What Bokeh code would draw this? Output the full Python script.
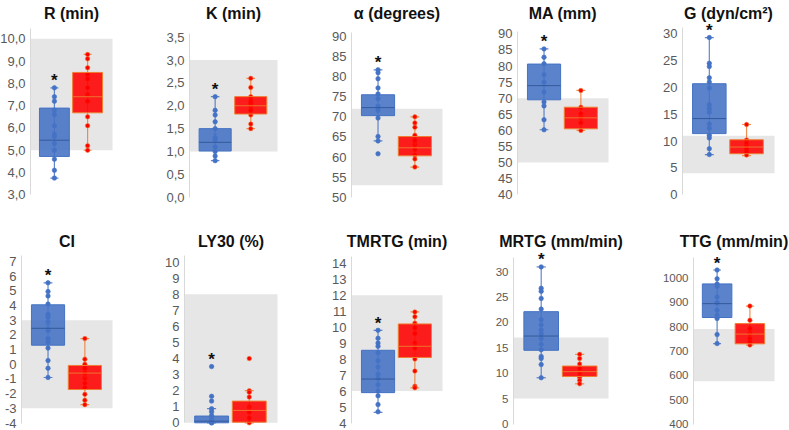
from bokeh.plotting import figure
from bokeh.layouts import column, row
from bokeh.models import FixedTicker
from bokeh.core.properties import value
from bokeh.embed import file_html
from bokeh.resources import INLINE

# ---------------- data ----------------
titles = ["R (min)", "K (min)", "α (degrees)", "MA (mm)", "G (dyn/cm²)",
          "CI", "LY30 (%)", "TMRTG (min)", "MRTG (mm/min)", "TTG (mm/min)"]

# reference (normal) ranges: gray bands
ref_low = [5.0, 1.0, 53.0, 50.0, 4.0, -3.0, 0.0, 6.0, 5.0, 575.0]
ref_high = [10.0, 3.0, 72.0, 70.0, 11.0, 3.0, 8.0, 12.0, 17.0, 790.0]

# tick values and labels
R_ticks = [3, 4, 5, 6, 7, 8, 9, 10]
R_labels = ["3,0", "4,0", "5,0", "6,0", "7,0", "8,0", "9,0", "10,0"]
K_ticks = [0.0, 0.5, 1.0, 1.5, 2.0, 2.5, 3.0, 3.5]
K_labels = ["0,0", "0,5", "1,0", "1,5", "2,0", "2,5", "3,0", "3,5"]
A_ticks = [50, 55, 60, 65, 70, 75, 80, 85, 90]
MA_ticks = [40, 45, 50, 55, 60, 65, 70, 75, 80, 85, 90]
G_ticks = [0, 5, 10, 15, 20, 25, 30]
CI_ticks = [-4, -3, -2, -1, 0, 1, 2, 3, 4, 5, 6, 7]
LY_ticks = [0, 1, 2, 3, 4, 5, 6, 7, 8, 9, 10]
TM_ticks = [4, 5, 6, 7, 8, 9, 10, 11, 12, 13, 14]
MR_ticks = [0, 5, 10, 15, 20, 25, 30]
TT_ticks = [400, 500, 600, 700, 800, 900, 1000]

# individual points (blue group, red group)
R_blue = [7.8, 7.4, 7.2, 6.8, 6.6, 6.1, 5.7, 5.6, 5.3, 5.0, 4.6, 4.1, 3.75]
R_red = [9.3, 9.1, 8.7, 8.4, 8.2, 7.8, 7.5, 7.2, 6.5, 6.1, 5.2, 5.0]
K_blue = [2.2, 1.9, 1.8, 1.65, 1.5, 1.3, 1.25, 1.1, 1.0, 0.9, 0.8]
K_red = [2.6, 2.4, 2.2, 2.1, 2.05, 2.0, 1.9, 1.8, 1.6, 1.5]
A_blue = [81.7, 81.0, 79.5, 77.2, 75.7, 74.5, 72.6, 71.6, 69.7, 65.1, 64.0, 60.8]
A_red = [70.0, 68.5, 67.4, 65.4, 64.1, 63.1, 61.9, 60.5, 59.5, 57.5]
MA_blue = [85.3, 82.7, 80.7, 77.3, 75.0, 71.9, 68.8, 67.6, 63.3, 60.2]
MA_red = [72.4, 67.2, 65.2, 64.0, 62.4, 60.0]
G_blue = [29.3, 24.5, 23.9, 21.8, 21.0, 19.9, 16.8, 16.1, 15.4, 13.2, 12.4, 11.1, 10.6, 8.6, 7.5]
G_red = [13.1, 10.2, 9.6, 9.0, 8.5, 7.9, 7.4]
CI_blue = [5.55, 4.95, 4.65, 4.1, 3.4, 3.2, 2.9, 2.3, 1.75, 1.5, 1.1, 0.25, -0.27, -0.9]
CI_red = [1.75, 0.35, 0.0, -0.27, -0.6, -0.95, -1.3, -1.6, -2.05, -2.45, -2.75]
LY_blue = [3.5, 1.65, 1.35, 0.88, 0.7, 0.45, 0.35, 0.15, 0.05, 0.0, 0.0]
LY_red = [4.0, 2.0, 1.9, 1.6, 0.98, 0.66, 0.3, 0.0]
TM_blue = [9.8, 9.3, 9.0, 8.8, 8.4, 7.9, 7.5, 7.05, 6.8, 6.4, 6.0, 5.7, 5.15, 4.7]
TM_red = [10.95, 10.65, 10.25, 9.95, 9.6, 9.0, 8.7, 8.0, 7.25, 6.3, 6.2]
MR_blue = [30.9, 26.7, 26.1, 24.7, 22.6, 20.5, 19.5, 18.5, 17.7, 16.8, 15.7, 14.6, 13.3, 12.9, 11.7, 9.1]
MR_red = [13.7, 12.9, 11.8, 10.9, 10.1, 9.2, 8.6, 7.9]
TT_blue = [1032, 996, 975, 965, 921, 898, 867, 846, 833, 767, 730]
TT_red = [884, 826, 792, 771, 751, 737, 724]

# box statistics: [whisker low, Q1, median, Q3, whisker high]
R_blue_box = [3.75, 4.72, 5.45, 6.89, 7.8]
R_red_box = [5.0, 6.68, 7.4, 8.49, 9.3]
K_blue_box = [0.8, 1.01, 1.2, 1.5, 2.2]
K_red_box = [1.5, 1.82, 2.0, 2.2, 2.6]
A_blue_box = [64.0, 70.3, 72.3, 75.5, 81.7]
A_red_box = [57.5, 60.3, 62.3, 65.1, 70.0]
MA_blue_box = [60.2, 69.5, 73.9, 80.6, 85.3]
MA_red_box = [60.0, 60.5, 63.9, 67.2, 72.4]
G_blue_box = [7.5, 11.4, 14.2, 20.7, 29.3]
G_red_box = [7.3, 7.65, 8.9, 10.25, 13.1]
CI_blue_box = [-0.9, 1.3, 2.45, 4.05, 5.55]
CI_red_box = [-2.75, -1.72, -0.6, -0.08, 1.75]
LY_blue_box = [0.0, 0.0, 0.1, 0.42, 0.88]
LY_red_box = [0.0, 0.04, 0.77, 1.35, 2.0]
TM_blue_box = [4.66, 5.9, 6.75, 8.55, 9.8]
TM_red_box = [6.2, 8.1, 8.8, 10.2, 10.95]
MR_blue_box = [9.1, 14.5, 17.3, 22.1, 30.9]
MR_red_box = [7.9, 9.35, 10.3, 11.4, 13.7]
TT_blue_box = [730, 837, 894, 975, 1032]
TT_red_box = [724, 729, 769, 812, 884]

# group means (x markers)
blue_means = [5.75, 1.35, 72.5, 74.2, 16.2, 2.6, 0.5, 7.0, 18.2, 895]
red_means = [7.5, 2.0, 63.2, 64.3, 9.2, -0.85, 0.95, 8.9, 10.4, 774]

tick_sets = [R_ticks, K_ticks, A_ticks, MA_ticks, G_ticks,
             CI_ticks, LY_ticks, TM_ticks, MR_ticks, TT_ticks]
label_sets = [R_labels, K_labels] + [[str(t) for t in ts] for ts in tick_sets[2:]]
blue_sets = [R_blue, K_blue, A_blue, MA_blue, G_blue, CI_blue, LY_blue, TM_blue, MR_blue, TT_blue]
red_sets = [R_red, K_red, A_red, MA_red, G_red, CI_red, LY_red, TM_red, MR_red, TT_red]
blue_boxes = [R_blue_box, K_blue_box, A_blue_box, MA_blue_box, G_blue_box,
              CI_blue_box, LY_blue_box, TM_blue_box, MR_blue_box, TT_blue_box]
red_boxes = [R_red_box, K_red_box, A_red_box, MA_red_box, G_red_box,
             CI_red_box, LY_red_box, TM_red_box, MR_red_box, TT_red_box]

# ---------------- layout (pixel geometry) ----------------
# x0, axis x, band right, x1
cols1 = [(0, 30, 112, 150), (150, 189, 277, 315), (315, 351, 442, 482),
         (482, 517, 608, 648), (648, 682, 774, 789)]
cols2 = [(0, 21, 112, 150), (150, 184, 277, 315), (315, 351, 442, 482),
         (482, 513, 608, 648), (648, 693, 774, 789)]
# y0, lowest tick px, y1, top tick px, axis-line top px, title centre px
rows1 = [(0, 194.3, 215, 38.3, 28, 12.5), (0, 196.7, 215, 36.7, 33, 12.5),
         (0, 196.7, 215, 36.0, 32, 12.5), (0, 194.3, 215, 33.3, 31, 12.5),
         (0, 194.3, 215, 33.3, 27, 12.5)]
rows2 = [(215, 422.5, 430, 261.0, 255, 240.5), (215, 422.3, 430, 261.7, 255, 240.5),
         (215, 422.5, 430, 262.7, 256, 240.5), (215, 423.5, 430, 271.0, 257, 240.5),
         (215, 423.5, 430, 277.3, 257, 240.5)]
tick_font = ["13px"] * 8 + ["11.5px", "11.5px"]

FONT = "Liberation Sans"
BLUE = "#4472C4"
BLUE_DARK = "#2F5597"
RED = "#FF0000"
ORANGE = "#ED7D31"
BAND = "#E7E6E6"
XB = (0.28, 2.75)   # data x of axis and of band's right edge


def make_panel(i, colg, rowg):
    x0, ax, fr, x1 = colg
    y0, pbot, y1, ptop, atop, tc = rowg
    ticks = tick_sets[i]
    vtop, vbot = ticks[-1], ticks[0]
    s = (pbot - ptop) / (vtop - vbot)          # pixels per y unit
    u = (fr - ax) / (XB[1] - XB[0])            # pixels per x unit
    xr = (XB[0] - (ax - x0) / u, XB[1] + (x1 - fr) / u)
    yr = (vbot - (y1 - pbot) / s, vtop + (ptop - y0) / s)
    axis_top = vtop + (ptop - atop) / s
    title_y = vtop + (ptop - tc) / s

    p = figure(width=x1 - x0, height=y1 - y0, x_range=xr, y_range=yr,
               output_backend="svg", toolbar_location=None, x_axis_type=None,
               min_border_left=0, min_border_right=0, min_border_top=0, min_border_bottom=0)
    p.outline_line_color = None
    p.ygrid.grid_line_color = None

    ya = p.yaxis[0]
    ya.fixed_location = XB[0]
    ya.bounds = (vbot, axis_top)
    ya.ticker = FixedTicker(ticks=ticks)
    ya.major_label_overrides = dict(zip(ticks, label_sets[i]))
    ya.axis_line_color = "#D9D9D9"
    ya.axis_line_width = 1
    ya.major_tick_line_color = None
    ya.minor_tick_line_color = None
    ya.major_tick_out = 0
    ya.major_tick_in = 0
    ya.major_label_standoff = 5
    ya.major_label_text_font = FONT
    ya.major_label_text_font_size = tick_font[i]
    ya.major_label_text_color = "#595959"

    # reference range band
    p.quad(left=[XB[0]], right=[XB[1]], bottom=[ref_low[i]], top=[ref_high[i]],
           fill_color=BAND, line_color=None, level="underlay")

    groups = [(1.0, blue_sets[i], blue_boxes[i], blue_means[i], BLUE, BLUE, BLUE, BLUE_DARK),
              (2.0, red_sets[i], red_boxes[i], red_means[i], RED, ORANGE, ORANGE, ORANGE)]
    for xc, pts, box, mean, fill, edge, wcol, medcol in groups:
        wlo, q1, med, q3, whi = box
        p.segment(x0=[xc], y0=[wlo], x1=[xc], y1=[whi], line_color=wcol, line_width=1.2, line_alpha=0.85)
        p.segment(x0=[xc - 0.12, xc - 0.12], y0=[wlo, whi], x1=[xc + 0.12, xc + 0.12], y1=[wlo, whi],
                  line_color=wcol, line_width=1.2, line_alpha=0.85)
        p.scatter(x=[xc] * len(pts), y=pts, size=4.5, marker="circle",
                  fill_color=fill, line_color=edge, line_width=0.6)
        p.scatter(x=[xc], y=[mean], size=6, marker="x", line_color=edge, line_width=1)
        p.vbar(x=[xc], width=0.9, bottom=[q1], top=[q3], fill_color=fill, fill_alpha=0.88,
               line_color=edge, line_width=1)
        p.segment(x0=[xc - 0.45], y0=[med], x1=[xc + 0.45], y1=[med], line_color=medcol,
                  line_width=1, line_alpha=0.9)

    # panel title centred over the plotting area
    p.text(x=[sum(XB) / 2], y=[title_y], text=[titles[i]], text_align="center",
           text_baseline="middle", text_font=value(FONT), text_font_size="16px",
           text_font_style="bold", text_color="#111111")
    # significance asterisk above the blue group
    p.text(x=[1.0], y=[max(blue_sets[i])], text=["*"], text_align="center",
           text_baseline="middle", y_offset=-7, text_font=value(FONT),
           text_font_size="17px", text_font_style="bold", text_color="#111111")
    return p


row1 = [make_panel(i, cols1[i], rows1[i]) for i in range(5)]
row2 = [make_panel(i + 5, cols2[i], rows2[i]) for i in range(5)]
layout = column(row(*row1, spacing=0), row(*row2, spacing=0), spacing=0)

open("out.html", "w").write(file_html(layout, INLINE))
